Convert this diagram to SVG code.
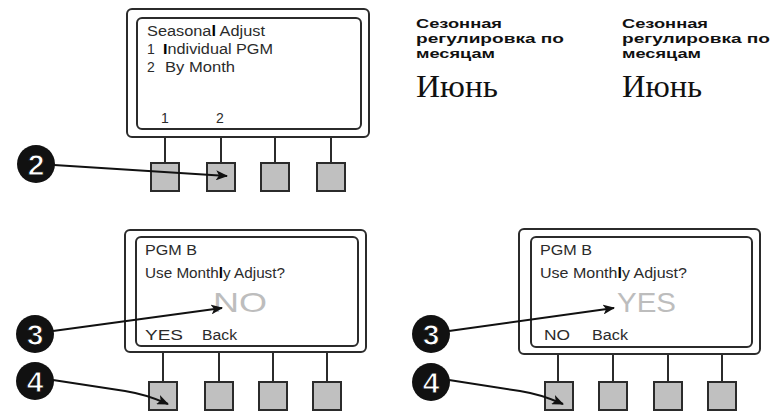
<svg xmlns="http://www.w3.org/2000/svg" width="772" height="411" viewBox="0 0 772 411">
<defs>
<style>
.outer{fill:#fff;stroke:#2b2b2b;stroke-width:2}
.inner{fill:#fff;stroke:#2b2b2b;stroke-width:2}
.stem{stroke:#2b2b2b;stroke-width:2}
.btn{fill:#c0c0c0;stroke:#2b2b2b;stroke-width:2}
.scr{font-family:"Liberation Sans",Arial,sans-serif;font-size:14px;fill:#2b2b2b}
.big{font-family:"Liberation Sans",Arial,sans-serif;font-size:28px;fill:#bdbdbd}
.ru{font-family:"Liberation Sans",Arial,sans-serif;font-size:13.5px;font-weight:bold;fill:#111}
.ser{font-family:"Liberation Serif","Times New Roman",serif;font-size:31px;fill:#111}
.badge{fill:#111}
.num{font-family:"Liberation Sans",Arial,sans-serif;font-size:30px;font-weight:bold;fill:#fff;stroke:#111;stroke-width:1;text-anchor:middle}
.conn{fill:none;stroke:#111;stroke-width:2;marker-end:url(#ah)}
</style>
<marker id="ah" viewBox="0 0 12 10" refX="11" refY="5" markerWidth="6" markerHeight="5" orient="auto" markerUnits="strokeWidth">
<path d="M0,0 L12,5 L0,10 L3,5 Z" fill="#111"/>
</marker>
</defs>
<rect width="772" height="411" fill="#fff"/>

<g id="device-top">
<rect class="outer" x="127" y="9" width="242" height="128" rx="5"/>
<rect class="inner" x="137" y="18" width="224" height="111" rx="5"/>
<text class="scr" x="147" y="36" font-size="15" textLength="118" lengthAdjust="spacingAndGlyphs">Seasona<tspan font-weight="bold" fill="#000">l</tspan> Adjust</text>
<text class="scr" x="147" y="54" font-size="15">1</text>
<text class="scr" x="163" y="54" font-size="15" textLength="110" lengthAdjust="spacingAndGlyphs"><tspan font-weight="bold" fill="#000">I</tspan>ndividual PGM</text>
<text class="scr" x="147" y="72" font-size="15">2</text>
<text class="scr" x="165" y="72" font-size="15" textLength="70" lengthAdjust="spacingAndGlyphs">By Month</text>
<text class="scr" x="165" y="123" font-size="13" text-anchor="middle">1</text>
<text class="scr" x="220" y="123" font-size="13" text-anchor="middle">2</text>
<line class="stem" x1="165" y1="137" x2="165" y2="163"/>
<line class="stem" x1="221" y1="137" x2="221" y2="163"/>
<line class="stem" x1="275" y1="137" x2="275" y2="163"/>
<line class="stem" x1="331" y1="137" x2="331" y2="163"/>
<rect class="btn" x="151" y="163" width="28" height="28"/>
<rect class="btn" x="207" y="163" width="28" height="28"/>
<rect class="btn" x="261" y="163" width="28" height="28"/>
<rect class="btn" x="317" y="163" width="28" height="28"/>
</g>

<g id="device-left">
<rect class="outer" x="125" y="230" width="241" height="122" rx="5"/>
<rect class="inner" x="136" y="237" width="222" height="109" rx="5"/>
<text class="scr" x="145" y="255" textLength="52" lengthAdjust="spacingAndGlyphs">PGM B</text>
<text class="scr" x="145" y="278" textLength="140" lengthAdjust="spacingAndGlyphs">Use Month<tspan font-weight="bold" fill="#000">l</tspan>y Adjust?</text>
<text class="big" x="213" y="312" textLength="54" lengthAdjust="spacingAndGlyphs">NO</text>
<text class="scr" x="145" y="340" textLength="38" lengthAdjust="spacingAndGlyphs">YES</text>
<text class="scr" x="202" y="340" textLength="35" lengthAdjust="spacingAndGlyphs">Back</text>
<line class="stem" x1="163" y1="352" x2="163" y2="382"/>
<line class="stem" x1="219" y1="352" x2="219" y2="382"/>
<line class="stem" x1="273" y1="352" x2="273" y2="382"/>
<line class="stem" x1="327" y1="352" x2="327" y2="382"/>
<rect class="btn" x="149" y="382" width="28" height="28"/>
<rect class="btn" x="205" y="382" width="28" height="28"/>
<rect class="btn" x="259" y="382" width="28" height="28"/>
<rect class="btn" x="313" y="382" width="28" height="28"/>
</g>

<g id="device-right">
<rect class="outer" x="519" y="229" width="241" height="125" rx="5"/>
<rect class="inner" x="531" y="237" width="221" height="110" rx="5"/>
<text class="scr" x="540" y="255" textLength="52" lengthAdjust="spacingAndGlyphs">PGM B</text>
<text class="scr" x="540" y="278" textLength="147" lengthAdjust="spacingAndGlyphs">Use Month<tspan font-weight="bold" fill="#000">l</tspan>y Adjust?</text>
<text class="big" x="617" y="312" textLength="59" lengthAdjust="spacingAndGlyphs">YES</text>
<text class="scr" x="544" y="340" textLength="26" lengthAdjust="spacingAndGlyphs">NO</text>
<text class="scr" x="592" y="340" textLength="36" lengthAdjust="spacingAndGlyphs">Back</text>
<line class="stem" x1="558" y1="354" x2="558" y2="382"/>
<line class="stem" x1="613" y1="354" x2="613" y2="382"/>
<line class="stem" x1="668" y1="354" x2="668" y2="382"/>
<line class="stem" x1="722" y1="354" x2="722" y2="382"/>
<rect class="btn" x="545" y="382" width="28" height="28"/>
<rect class="btn" x="599" y="382" width="28" height="28"/>
<rect class="btn" x="654" y="382" width="28" height="28"/>
<rect class="btn" x="708" y="382" width="28" height="28"/>
</g>

<g id="label-left">
<text class="ru" x="416" y="28" textLength="86" lengthAdjust="spacingAndGlyphs">Сезонная</text>
<text class="ru" x="416" y="43" textLength="148" lengthAdjust="spacingAndGlyphs">регулировка по</text>
<text class="ru" x="416" y="58" textLength="79" lengthAdjust="spacingAndGlyphs">месяцам</text>
<text class="ser" x="416" y="97" textLength="82" lengthAdjust="spacingAndGlyphs">Июнь</text>
</g>
<g id="label-right">
<text class="ru" x="622" y="28" textLength="86" lengthAdjust="spacingAndGlyphs">Сезонная</text>
<text class="ru" x="622" y="43" textLength="148" lengthAdjust="spacingAndGlyphs">регулировка по</text>
<text class="ru" x="622" y="58" textLength="79" lengthAdjust="spacingAndGlyphs">месяцам</text>
<text class="ser" x="622" y="97" textLength="80" lengthAdjust="spacingAndGlyphs">Июнь</text>
</g>

<g id="badge-2"><circle class="badge" cx="36" cy="164" r="19"/><text class="num" x="36" y="175">2</text></g>
<g id="badge-3-left"><circle class="badge" cx="35" cy="334" r="19"/><text class="num" x="35" y="345">3</text></g>
<g id="badge-4-left"><circle class="badge" cx="35" cy="381" r="19"/><text class="num" x="35" y="392">4</text></g>
<g id="badge-3-right"><circle class="badge" cx="431" cy="334" r="19"/><text class="num" x="431" y="345">3</text></g>
<g id="badge-4-right"><circle class="badge" cx="431" cy="382" r="19"/><text class="num" x="431" y="393">4</text></g>

<g id="connectors">
<path class="conn" d="M54,165 L227,176"/>
<path class="conn" d="M53,331 L222,308"/>
<path class="conn" d="M53,380 L125,391 Q145,394 168,404"/>
<path class="conn" d="M449,331 L614,308"/>
<path class="conn" d="M449,380 L520,391 Q540,394 563,404"/>
</g>
</svg>
